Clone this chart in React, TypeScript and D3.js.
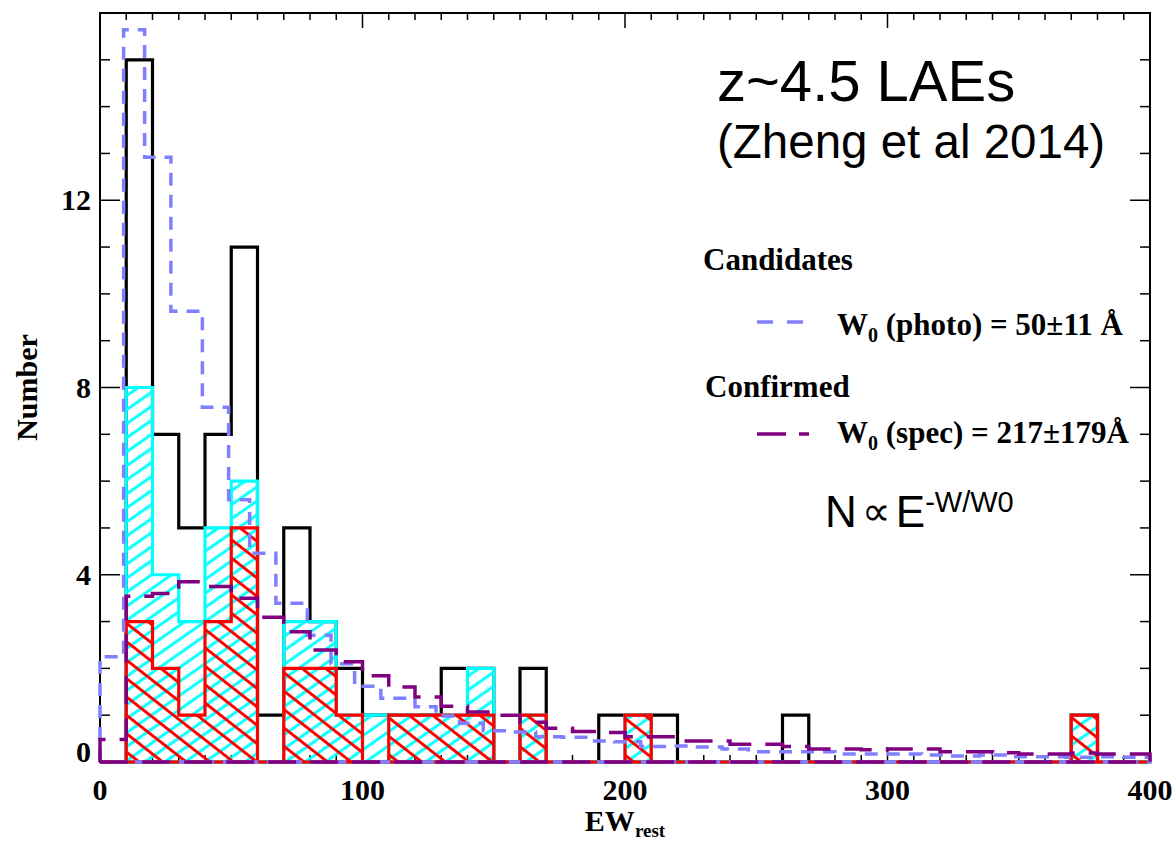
import React, { useEffect, useRef } from 'react';
import * as d3 from 'd3';

// EW_rest bins of 10 A, 0..400
const binStarts = d3.range(0, 400, 10);

// all candidates (black outline)
const allCandidates = [0, 15, 7, 5, 7, 11, 1, 5, 3, 2, 1, 1, 1, 2, 2, 0, 2, 0, 0, 1, 1, 1, 0, 0, 0, 0, 1, 0, 0, 0, 0, 0, 0, 0, 0, 0, 0, 1, 0, 0];
// cyan hatched histogram
const cyanCounts = [0, 8, 4, 3, 5, 6, 0, 3, 3, 1, 1, 1, 1, 1, 2, 0, 1, 0, 0, 0, 1, 0, 0, 0, 0, 0, 0, 0, 0, 0, 0, 0, 0, 0, 0, 0, 0, 1, 0, 0];
// red cross-hatched histogram
const redCounts = [0, 3, 2, 1, 3, 5, 0, 2, 2, 1, 0, 1, 1, 1, 1, 0, 1, 0, 0, 0, 1, 0, 0, 0, 0, 0, 0, 0, 0, 0, 0, 0, 0, 0, 0, 0, 0, 1, 0, 0];

// photometric model, W0 = 50 (step edges as drawn)
const photoEdges = [0, 9, 17, 27, 39, 49, 57, 67, 79, 88, 97, 107, 120, 128, 137, 146, 156, 166, 176, 186, 196, 206, 216, 226, 237, 247, 258, 268, 280, 291, 302, 313, 324, 335, 346, 357, 368, 379, 390, 400];
const photoModel = [2.25, 15.64, 12.92, 9.63, 7.58, 5.6, 4.46, 3.39, 2.71, 2.1, 1.62, 1.36, 1.18, 0.98, 0.83, 0.67, 0.64, 0.54, 0.53, 0.45, 0.43, 0.33, 0.34, 0.32, 0.28, 0.22, 0.22, 0.22, 0.17, 0.17, 0.17, 0.15, 0.13, 0.15, 0.11, 0.11, 0.1, 0.11, 0.1];

// spectroscopic model, W0 = 217 (per 10 A bin)
const specModel = [0.48, 3.54, 3.6, 3.85, 3.75, 3.5, 3.09, 2.78, 2.39, 2.14, 1.84, 1.6, 1.39, 1.19, 1.07, 1.0, 0.85, 0.72, 0.65, 0.63, 0.54, 0.54, 0.45, 0.45, 0.38, 0.38, 0.33, 0.28, 0.28, 0.26, 0.28, 0.28, 0.22, 0.22, 0.2, 0.17, 0.17, 0.19, 0.17, 0.17];

const xTicks = [0, 100, 200, 300, 400];
const yTicks = [0, 4, 8, 12];

const SERIF = '"Liberation Serif", "Times New Roman", serif';
const SANS = '"Liberation Sans", Arial, sans-serif';

const App: React.FC = () => {
  const svgRef = useRef<SVGSVGElement>(null);

  useEffect(() => {
    if (!svgRef.current) return;
    const svg = d3.select(svgRef.current);
    svg.selectAll('*').remove();

    const x = d3.scaleLinear().domain([0, 400]).range([100, 1150]);
    const y = d3.scaleLinear().domain([0, 16]).range([762, 13]);

    // hatch patterns
    const defs = svg.append('defs');
    const hatch = (id: string, color: string, angle: number, gap: number) => {
      const p = defs.append('pattern')
        .attr('id', id)
        .attr('patternUnits', 'userSpaceOnUse')
        .attr('width', 40)
        .attr('height', gap)
        .attr('patternTransform', `rotate(${angle})`);
      p.append('line')
        .attr('x1', 0).attr('x2', 40)
        .attr('y1', gap / 2).attr('y2', gap / 2)
        .attr('stroke', color)
        .attr('stroke-width', 3);
    };
    hatch('hatchCyan', '#00ffff', -35, 11.5);
    hatch('hatchRed', '#ff0000', 38, 14.5);

    // frame + ticks
    const axes = svg.append('g').attr('stroke', '#000');
    axes.append('rect')
      .attr('x', x(0)).attr('y', y(16))
      .attr('width', x(400) - x(0)).attr('height', y(0) - y(16))
      .attr('fill', 'none').attr('stroke-width', 2);

    d3.range(0, 401, 10).forEach(v => {
      const len = v % 100 === 0 ? 15 : 7;
      axes.append('line').attr('x1', x(v)).attr('x2', x(v)).attr('y1', y(0)).attr('y2', y(0) - len).attr('stroke-width', 1.5);
      axes.append('line').attr('x1', x(v)).attr('x2', x(v)).attr('y1', y(16)).attr('y2', y(16) + len).attr('stroke-width', 1.5);
    });
    d3.range(0, 17, 1).forEach(v => {
      const len = v % 4 === 0 ? 20 : 10;
      axes.append('line').attr('x1', x(0)).attr('x2', x(0) + len).attr('y1', y(v)).attr('y2', y(v)).attr('stroke-width', 1.5);
      axes.append('line').attr('x1', x(400)).attr('x2', x(400) - len).attr('y1', y(v)).attr('y2', y(v)).attr('stroke-width', 1.5);
    });

    // tick labels
    svg.append('g').selectAll('text').data(xTicks).enter().append('text')
      .attr('x', d => x(d)).attr('y', 800)
      .attr('text-anchor', 'middle')
      .attr('font-family', SERIF).attr('font-weight', 'bold').attr('font-size', 30)
      .text(d => d);
    svg.append('g').selectAll('text').data(yTicks).enter().append('text')
      .attr('x', 91).attr('y', d => (d === 0 ? y(d) : y(d) + 10))
      .attr('text-anchor', 'end')
      .attr('font-family', SERIF).attr('font-weight', 'bold').attr('font-size', 30)
      .text(d => d);

    // axis titles
    const xt = svg.append('text')
      .attr('x', 625).attr('y', 831)
      .attr('text-anchor', 'middle')
      .attr('font-family', SERIF).attr('font-weight', 'bold').attr('font-size', 30);
    xt.append('tspan').text('EW');
    xt.append('tspan').attr('font-size', 19).attr('dy', 6).text('rest');

    svg.append('text')
      .attr('transform', `translate(37, ${(y(0) + y(16)) / 2}) rotate(-90)`)
      .attr('text-anchor', 'middle')
      .attr('font-family', SERIF).attr('font-weight', 'bold').attr('font-size', 30)
      .text('Number');

    // step helpers
    const binEdges = [...binStarts, 400];
    const outline = (edges: number[], vals: number[]): [number, number][] => {
      const pts: [number, number][] = [[edges[0], 0]];
      vals.forEach((v, i) => pts.push([edges[i], v]));
      pts.push([edges[edges.length - 1], vals[vals.length - 1]]);
      pts.push([edges[edges.length - 1], 0]);
      pts.push([edges[0], 0]);
      return pts;
    };
    const stepLine = d3.line<[number, number]>()
      .x(d => x(d[0]))
      .y(d => y(d[1]))
      .curve(d3.curveStepAfter);
    const stepArea = d3.area<[number, number]>()
      .x(d => x(d[0]))
      .y0(y(0))
      .y1(d => y(d[1]))
      .curve(d3.curveStepAfter);
    const areaPts = (vals: number[]): [number, number][] => {
      const pts: [number, number][] = vals.map((v, i) => [binEdges[i], v]);
      pts.push([400, vals[vals.length - 1]]);
      return pts;
    };

    const plot = svg.append('g').attr('fill', 'none');

    // all candidates
    plot.append('path')
      .attr('d', stepLine(outline(binEdges, allCandidates)))
      .attr('stroke', '#000').attr('stroke-width', 3.2);

    // cyan
    plot.append('path')
      .attr('d', stepArea(areaPts(cyanCounts)))
      .attr('fill', 'url(#hatchCyan)');
    plot.append('path')
      .attr('d', stepLine(outline(binEdges, cyanCounts)))
      .attr('stroke', '#00ffff').attr('stroke-width', 3.2);

    // red
    plot.append('path')
      .attr('d', stepArea(areaPts(redCounts)))
      .attr('fill', 'url(#hatchRed)');
    plot.append('path')
      .attr('d', stepLine(outline(binEdges, redCounts)))
      .attr('stroke', '#ff0000').attr('stroke-width', 3.2);

    // models
    plot.append('path')
      .attr('d', stepLine(outline(photoEdges, photoModel)))
      .attr('stroke', '#8080ff').attr('stroke-width', 3.5)
      .attr('stroke-dasharray', '13,9');
    plot.append('path')
      .attr('d', stepLine(outline(binEdges, specModel)))
      .attr('stroke', '#800080').attr('stroke-width', 3.5)
      .attr('stroke-dasharray', '28,14');

    // annotations
    svg.append('text')
      .attr('x', 717).attr('y', 101)
      .attr('font-family', SANS).attr('font-size', 58)
      .text('z~4.5 LAEs');
    svg.append('text')
      .attr('x', 717).attr('y', 158)
      .attr('font-family', SANS).attr('font-size', 47.5)
      .text('(Zheng et al 2014)');

    const legendText = (tx: number, ty: number, label: string) => {
      const t = svg.append('text')
        .attr('x', tx).attr('y', ty)
        .attr('font-family', SERIF).attr('font-weight', 'bold').attr('font-size', 31);
      t.append('tspan').text('W');
      t.append('tspan').attr('font-size', 20).attr('dy', 7).text('0');
      t.append('tspan').attr('dy', -7).text(label);
    };

    svg.append('text')
      .attr('x', 703).attr('y', 270)
      .attr('font-family', SERIF).attr('font-weight', 'bold').attr('font-size', 31)
      .text('Candidates');
    svg.append('line')
      .attr('x1', 757).attr('x2', 803).attr('y1', 322).attr('y2', 322)
      .attr('stroke', '#8080ff').attr('stroke-width', 3.5)
      .attr('stroke-dasharray', '16,14');
    legendText(837, 335, ' (photo) = 50±11 Å');

    svg.append('text')
      .attr('x', 705).attr('y', 397)
      .attr('font-family', SERIF).attr('font-weight', 'bold').attr('font-size', 31)
      .text('Confirmed');
    svg.append('line')
      .attr('x1', 757).attr('x2', 809).attr('y1', 434).attr('y2', 434)
      .attr('stroke', '#800080').attr('stroke-width', 3.5)
      .attr('stroke-dasharray', '29,13');
    legendText(837, 443, ' (spec) = 217±179Å');

    const law = svg.append('text')
      .attr('x', 825).attr('y', 527)
      .attr('font-family', SANS).attr('font-size', 44);
    law.append('tspan').text('N');
    law.append('tspan').attr('font-size', 40).attr('dx', 5).attr('dy', -2).text('∝');
    law.append('tspan').attr('dx', 5).attr('dy', 2).text('E');
    law.append('tspan').attr('font-size', 29).attr('dy', -15).text('-W/W0');
  }, []);

  return (
    <svg
      ref={svgRef}
      width={1176}
      height={842}
      style={{ position: 'absolute', left: 0, top: 0, background: '#fff' }}
    />
  );
};

export default App;
